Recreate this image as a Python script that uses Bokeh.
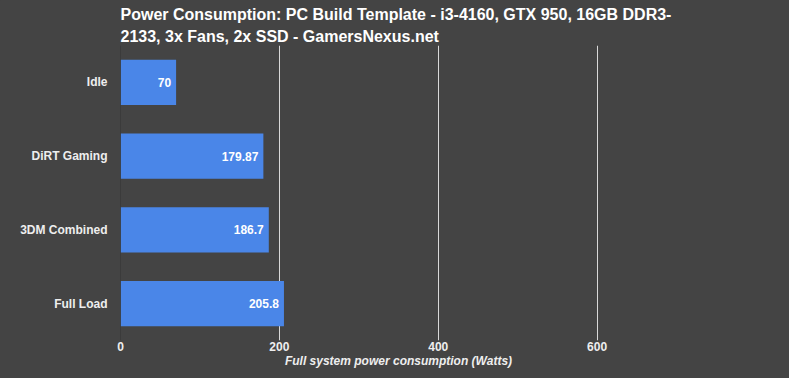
from bokeh.plotting import figure
from bokeh.models import ColumnDataSource, LabelSet, FixedTicker, Span
from bokeh.core.properties import value
from bokeh.embed import file_html
from bokeh.resources import INLINE

categories = ["Idle", "DiRT Gaming", "3DM Combined", "Full Load"]
values = [70, 179.87, 186.7, 205.8]
value_labels = ["70", "179.87", "186.7", "205.8"]
x_ticks = [0, 200, 400, 600]

BG = "#444444"
FONT = "Liberation Sans"

src = ColumnDataSource(dict(cat=categories, val=values, lab=value_labels))

p = figure(width=781, height=370, y_range=list(reversed(categories)), x_range=(0, 700),
           output_backend="svg", toolbar_location=None,
           min_border_left=120, min_border_right=105, min_border_top=45, min_border_bottom=25)
p.background_fill_color = BG
p.border_fill_color = BG
p.outline_line_color = None

p.title.text = "Power Consumption: PC Build Template - i3-4160, GTX 950, 16GB DDR3-\n2133, 3x Fans, 2x SSD - GamersNexus.net"
p.title.text_color = "#ffffff"
p.title.text_font = FONT
p.title.text_font_size = "16px"
p.title.text_font_style = "bold"
p.title.text_line_height = 1.3
p.title.align = "left"
p.title.standoff = 0

p.hbar(y="cat", right="val", left=0, height=0.613, source=src, color="#4a86e8", line_color=None)

p.add_layout(LabelSet(x="val", y="cat", text="lab", source=src, x_offset=-5,
                      text_align="right", text_baseline="middle", text_color="#ffffff",
                      text_font=value(FONT), text_font_size="12px", text_font_style="bold"))

p.xaxis.ticker = FixedTicker(ticks=x_ticks)
p.xgrid.ticker = FixedTicker(ticks=x_ticks[1:])
p.xgrid.grid_line_color = "#d9d9d9"
p.ygrid.grid_line_color = None
p.add_layout(Span(location=0, dimension="height", line_color="#333333", line_width=1))

for ax in (p.xaxis[0], p.yaxis[0]):
    ax.axis_line_color = None
    ax.major_tick_line_color = None
    ax.minor_tick_line_color = None
    ax.major_tick_out = 0
    ax.major_tick_in = 0
    ax.minor_tick_out = 0
    ax.major_label_text_font = FONT
    ax.major_label_text_font_style = "bold"
    ax.major_label_text_color = "#eeeeee"
    ax.major_label_text_font_size = "12px"

p.yaxis.major_label_standoff = 13
p.xaxis.major_label_standoff = 1
p.xaxis.axis_label = "Full system power consumption (Watts)"
p.xaxis.axis_label_text_font = FONT
p.xaxis.axis_label_text_font_style = "bold italic"
p.xaxis.axis_label_text_color = "#eeeeee"
p.xaxis.axis_label_text_font_size = "12px"
p.xaxis.axis_label_standoff = 0

html = file_html(p, INLINE)
html = html.replace("</head>", "<style>html, body { background: #444444; }</style></head>", 1)
open("out.html", "w").write(html)
